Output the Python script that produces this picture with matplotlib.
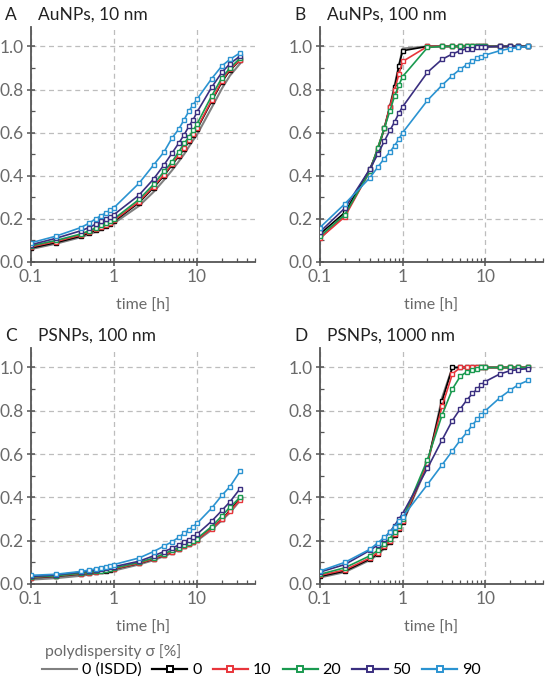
import matplotlib
matplotlib.use("Agg")
import matplotlib.pyplot as plt
from matplotlib.lines import Line2D
from matplotlib.ticker import MultipleLocator, LogLocator, NullFormatter

plt.rcParams['font.family'] = ['Lato', 'DejaVu Sans']

# time points [h]
t = [0.1, 0.2, 0.4, 0.5, 0.6, 0.7, 0.8, 0.9, 1, 2, 3, 4, 5, 6, 7, 8, 9, 10, 15, 20, 25, 33]

labels = ['0 (ISDD)', '0', '10', '20', '50', '90']
colors = ['#808080', '#000000', '#e8353b', '#1a9a50', '#3a2f80', '#2b93d1']

# A: AuNPs, 10 nm
a_isdd = [0.06, 0.085, 0.115, 0.128, 0.14, 0.15, 0.16, 0.17, 0.18, 0.26, 0.325, 0.38, 0.425, 0.465, 0.50, 0.535, 0.565, 0.59, 0.715, 0.805, 0.865, 0.92]
a_s0 = [0.065, 0.09, 0.12, 0.135, 0.147, 0.158, 0.168, 0.178, 0.188, 0.275, 0.345, 0.40, 0.45, 0.49, 0.525, 0.56, 0.59, 0.615, 0.745, 0.835, 0.89, 0.935]
a_s10 = [0.07, 0.095, 0.125, 0.14, 0.152, 0.163, 0.173, 0.183, 0.193, 0.28, 0.35, 0.405, 0.455, 0.495, 0.53, 0.565, 0.595, 0.62, 0.75, 0.84, 0.895, 0.935]
a_s20 = [0.075, 0.10, 0.13, 0.145, 0.158, 0.17, 0.18, 0.19, 0.20, 0.29, 0.36, 0.42, 0.465, 0.51, 0.55, 0.58, 0.61, 0.64, 0.77, 0.855, 0.90, 0.945]
a_s50 = [0.08, 0.11, 0.145, 0.16, 0.175, 0.19, 0.20, 0.21, 0.22, 0.31, 0.385, 0.45, 0.505, 0.55, 0.59, 0.63, 0.66, 0.695, 0.81, 0.88, 0.92, 0.955]
a_s90 = [0.089, 0.12, 0.16, 0.18, 0.20, 0.215, 0.228, 0.24, 0.252, 0.365, 0.45, 0.51, 0.575, 0.615, 0.66, 0.70, 0.73, 0.755, 0.85, 0.91, 0.94, 0.97]

# B: AuNPs, 100 nm
b_isdd = [0.11, 0.22, 0.42, 0.52, 0.62, 0.72, 0.82, 0.91, 0.99, 1, 1, 1, 1, 1, 1, 1, 1, 1, 1, 1, 1, 1]
b_s0 = [0.13, 0.23, 0.43, 0.52, 0.62, 0.72, 0.81, 0.91, 0.98, 1, 1, 1, 1, 1, 1, 1, 1, 1, 1, 1, 1, 1]
b_s10 = [0.11, 0.21, 0.42, 0.53, 0.62, 0.72, 0.80, 0.87, 0.93, 1, 1, 1, 1, 1, 1, 1, 1, 1, 1, 1, 1, 1]
b_s20 = [0.12, 0.22, 0.42, 0.53, 0.62, 0.70, 0.77, 0.82, 0.86, 0.995, 1, 1, 1, 1, 1, 1, 1, 1, 1, 1, 1, 1]
b_s50 = [0.14, 0.25, 0.43, 0.50, 0.56, 0.61, 0.65, 0.69, 0.72, 0.88, 0.94, 0.965, 0.98, 0.99, 0.99, 0.995, 0.997, 0.998, 1, 1, 1, 1]
b_s90 = [0.16, 0.27, 0.39, 0.44, 0.48, 0.51, 0.54, 0.57, 0.60, 0.75, 0.82, 0.865, 0.895, 0.915, 0.93, 0.945, 0.95, 0.96, 0.98, 0.99, 0.995, 1.0]

# C: PSNPs, 100 nm
c_isdd = [0.02, 0.027, 0.038, 0.043, 0.048, 0.052, 0.056, 0.059, 0.062, 0.09, 0.11, 0.128, 0.143, 0.157, 0.17, 0.18, 0.19, 0.20, 0.25, 0.295, 0.33, 0.385]
c_s0 = [0.028, 0.035, 0.046, 0.05, 0.055, 0.059, 0.062, 0.066, 0.069, 0.095, 0.115, 0.133, 0.148, 0.162, 0.175, 0.185, 0.195, 0.205, 0.258, 0.30, 0.34, 0.395]
c_s10 = [0.03, 0.037, 0.048, 0.052, 0.057, 0.061, 0.064, 0.067, 0.07, 0.096, 0.116, 0.134, 0.149, 0.163, 0.175, 0.186, 0.196, 0.205, 0.255, 0.30, 0.335, 0.39]
c_s20 = [0.032, 0.038, 0.05, 0.054, 0.058, 0.062, 0.066, 0.07, 0.073, 0.10, 0.12, 0.14, 0.155, 0.168, 0.18, 0.19, 0.20, 0.21, 0.265, 0.315, 0.355, 0.40]
c_s50 = [0.035, 0.042, 0.055, 0.06, 0.065, 0.07, 0.074, 0.077, 0.08, 0.105, 0.13, 0.15, 0.165, 0.18, 0.195, 0.205, 0.215, 0.23, 0.29, 0.34, 0.38, 0.44]
c_s90 = [0.04, 0.045, 0.058, 0.064, 0.07, 0.075, 0.08, 0.085, 0.09, 0.12, 0.15, 0.175, 0.195, 0.215, 0.235, 0.25, 0.265, 0.28, 0.35, 0.41, 0.45, 0.52]

# D: PSNPs, 1000 nm
d_isdd = [0.03, 0.055, 0.11, 0.135, 0.165, 0.19, 0.22, 0.25, 0.28, 0.55, 0.86, 1, 1, 1, 1, 1, 1, 1, 1, 1, 1, 1]
d_s0 = [0.035, 0.06, 0.115, 0.14, 0.17, 0.195, 0.225, 0.255, 0.285, 0.56, 0.845, 1, 1, 1, 1, 1, 1, 1, 1, 1, 1, 1]
d_s10 = [0.04, 0.065, 0.12, 0.145, 0.175, 0.20, 0.23, 0.26, 0.29, 0.56, 0.82, 0.97, 1, 1, 1, 1, 1, 1, 1, 1, 1, 1]
d_s20 = [0.045, 0.075, 0.13, 0.155, 0.185, 0.21, 0.24, 0.27, 0.30, 0.575, 0.78, 0.90, 0.96, 0.98, 0.99, 0.995, 1, 1, 1, 1, 1, 1]
d_s50 = [0.055, 0.09, 0.155, 0.18, 0.21, 0.24, 0.27, 0.30, 0.325, 0.535, 0.665, 0.755, 0.81, 0.85, 0.88, 0.90, 0.92, 0.935, 0.97, 0.985, 0.99, 0.995]
d_s90 = [0.06, 0.10, 0.16, 0.19, 0.215, 0.24, 0.265, 0.29, 0.31, 0.46, 0.55, 0.615, 0.665, 0.70, 0.735, 0.76, 0.78, 0.80, 0.86, 0.895, 0.92, 0.94]

panels = [
    ('A', 'AuNPs, 10 nm', [a_isdd, a_s0, a_s10, a_s20, a_s50, a_s90]),
    ('B', 'AuNPs, 100 nm', [b_isdd, b_s0, b_s10, b_s20, b_s50, b_s90]),
    ('C', 'PSNPs, 100 nm', [c_isdd, c_s0, c_s10, c_s20, c_s50, c_s90]),
    ('D', 'PSNPs, 1000 nm', [d_isdd, d_s0, d_s10, d_s20, d_s50, d_s90]),
]

W, H = 553, 686
fig = plt.figure(figsize=(W / 100, H / 100), dpi=100)

# axes boxes in pixels: left, top, right, bottom
boxes = [(31, 27, 255, 262), (320, 27, 543, 262), (31, 348, 255, 584), (320, 348, 543, 584)]

grey = '#6a6a6a'
for (letter, title, series), (l, tp, r, b) in zip(panels, boxes):
    ax = fig.add_axes([l / W, 1 - b / H, (r - l) / W, (b - tp) / H])
    for i, (y, c) in enumerate(zip(series, colors)):
        if i == 0:
            ax.plot(t, y, color=c, lw=1.5, zorder=2)
        else:
            ax.plot(t, y, color=c, lw=1.2, marker='s', ms=3.4, mfc='white',
                    mec=c, mew=1.0, zorder=3 + i)
    ax.set_xscale('log')
    ax.set_xlim(0.1, 50)
    ax.set_ylim(0, 1.09)
    ax.set_xticks([0.1, 1, 10], ['0.1', '1', '10'])
    ax.xaxis.set_minor_locator(LogLocator(base=10, subs=range(2, 10)))
    ax.xaxis.set_minor_formatter(NullFormatter())
    ax.yaxis.set_minor_locator(MultipleLocator(0.1))
    ax.set_yticks([0, 0.2, 0.4, 0.6, 0.8, 1.0], ['0.0', '0.2', '0.4', '0.6', '0.8', '1.0'])
    ax.grid(True, which='major', ls=(0, (4, 3)), color='#bdbdbd', lw=0.9)
    for s in ['top', 'right']:
        ax.spines[s].set_visible(False)
    for s in ['left', 'bottom']:
        ax.spines[s].set_color('#555555')
        ax.spines[s].set_linewidth(1.3)
    ax.tick_params(which='major', direction='inout', length=6, width=1.1,
                   color='#555555', labelcolor=grey, labelsize=12.5, pad=2)
    ax.tick_params(which='minor', direction='in', length=3, width=0.9, color='#555555')
    ax.set_xlabel('time [h]', color=grey, fontsize=11.5, labelpad=10)
    ty = 1 - (tp - 12) / H
    fig.text((l - 26) / W, ty, letter, fontsize=12.5, color='#222222', va='center')
    fig.text((l + 7) / W, ty, title, fontsize=12.5, color='#222222', va='center')

fig.text(45 / W, 1 - 652 / H, 'polydispersity σ [%]', fontsize=11.3, color=grey, va='center')

handles = [Line2D([], [], color=colors[0], lw=1.5)]
for c in colors[1:]:
    handles.append(Line2D([], [], color=c, lw=1.6, marker='s', ms=4, mfc='white', mec=c, mew=1.4))
leg = fig.legend(handles, labels, ncol=6, loc='center left', bbox_to_anchor=(40 / W, 1 - 670 / H),
                 frameon=False, fontsize=11.5, handlelength=2.2, handletextpad=0.3,
                 columnspacing=0.7, borderpad=0.1, borderaxespad=0)

fig.savefig('out.png', dpi=100)
